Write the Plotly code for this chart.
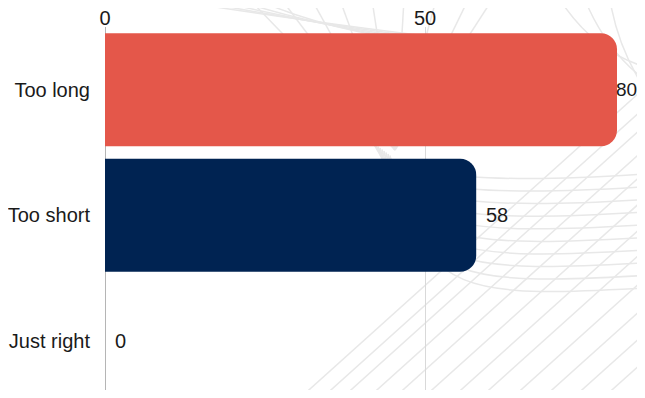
import plotly.graph_objects as go

categories = ["Too long", "Too short", "Just right"]
values = [80, 58, 0]
bar_colors = ["#E4574A", "#002352", "#002352"]
x_ticks = [0, 50]

FONT = "Liberation Sans, Arial, sans-serif"
TXT = "#1a1a1a"
X_MAX = (637 - 105) / 6.4  # visible end of the value axis

fig = go.Figure()
fig.add_trace(go.Bar(
    y=categories, x=values, orientation="h",
    marker=dict(color=bar_colors, cornerradius=16, line=dict(width=0)),
    hoverinfo="skip", showlegend=False,
))

for c, v in zip(categories, values):
    if v > X_MAX - 4:
        # keep the label inside the visible page
        fig.add_annotation(x=1, xref="paper", y=c, text=str(v), showarrow=False,
                           xanchor="right", yanchor="middle", xshift=2,
                           font=dict(family=FONT, size=19, color=TXT))
    else:
        fig.add_annotation(x=v, y=c, text=str(v), showarrow=False,
                           xanchor="left", yanchor="middle", xshift=8,
                           font=dict(family=FONT, size=20, color=TXT))

# ---- decorative background wireframe (light grey curves), screen px -> paper ----
L, R, T, B = 105, 637, 27, 390
def px(x):
    return (x - L) / (R - L)
def py(y):
    return (B - y) / (B - T)
def P(x, y):
    return f"{px(x):.4f},{py(y):.4f}"

deco = []
for xb in [300, 322, 342, 368, 394, 423, 452, 480, 512, 543, 573, 603, 633]:
    x2 = xb + 340
    y2 = 398 - 0.9 * 340
    deco.append(f"M{P(xb, 398)} L{P(x2, y2)}")
for j in range(10):
    sx, sy = 372 + 2 * j, 142 + 1.5 * j
    ey = 173 + 12.7 * j
    c1 = (385 + 4 * j, 165 + 15 * j)
    c2 = (430 + 4 * j, 190 + 12 * j)
    deco.append(f"M{P(sx, sy)} C{P(*c1)} {P(*c2)} {P(660, ey)}")
for xt in [250, 282, 312, 340, 372, 404, 436, 468, 492]:
    deco.append(f"M{P(xt, 0)} L{P(395, 150)}")
for i in range(5):
    deco.append(f"M{P(170 + 22 * i, 0)} Q{P(330, 25 + 2 * i)} {P(460, 40 + 2 * i)}")
for i in range(3):
    deco.append(f"M{P(560 + 25 * i, 0)} Q{P(600 + 10 * i, 60)} {P(660, 70 + 20 * i)}")

shapes = [dict(type="path", path=p, xref="paper", yref="paper", layer="below",
               line=dict(color="#e8e8e8", width=1.5)) for p in deco]

fig.update_layout(
    width=629, height=382,
    margin=dict(l=97, r=0, t=19, b=0, pad=0),
    paper_bgcolor="white", plot_bgcolor="rgba(0,0,0,0)",
    bargap=0.1,
    shapes=shapes,
    font=dict(family=FONT, size=20, color=TXT),
    xaxis=dict(side="top", range=[0, X_MAX], tickvals=x_ticks,
               showgrid=True, gridcolor="#d9d9d9", gridwidth=1,
               zeroline=True, zerolinecolor="#b5b5b5", zerolinewidth=1,
               showline=False, ticks="", ticklabelstandoff=-3,
               automargin=False, fixedrange=True),
    yaxis=dict(categoryorder="array", categoryarray=categories,
               range=[2.392, -0.5], showgrid=False, zeroline=False,
               showline=False, ticks="", ticklabelstandoff=14,
               automargin=False, fixedrange=True),
)

fig.write_html("out.html")
